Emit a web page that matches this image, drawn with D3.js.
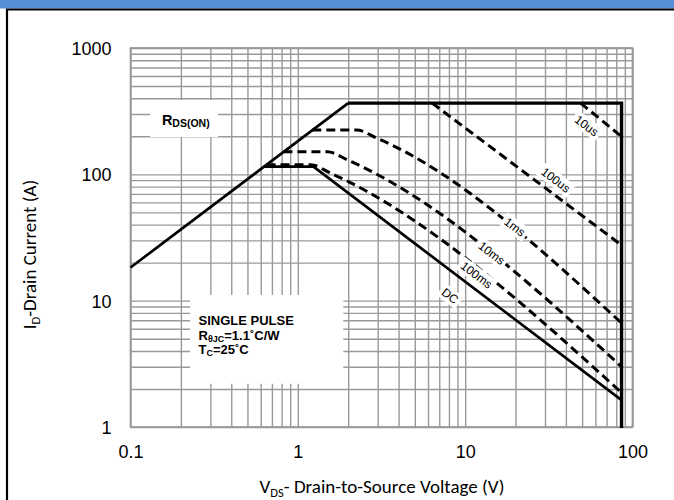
<!DOCTYPE html>
<html><head><meta charset="utf-8">
<script src="https://cdn.jsdelivr.net/npm/d3@7"></script>
<style>body{margin:0;background:#fff}svg{display:block}</style>
</head><body><svg id="c" width="674" height="500"></svg>
<script>
// ---- data ----
const xTicks = [0.1, 1, 10, 100];
const xTickLabels = ["0.1", "1", "10", "100"];
const yTicks = [1, 10, 100, 1000];
const yTickLabels = ["1", "10", "100", "1000"];

// [V, A] points
const rdsLine   = [[0.1, 18.3], [2.0, 366]];
const limitLine = [[2.0, 366], [86, 366], [86, 0.98]];
const dcLine    = [[0.62, 115], [1.24, 115], [86, 1.63]];
const ms100Line = [[0.65, 119], [1.2, 119], [1.55, 103], [86, 1.87]];
const ms10Line  = [[0.82, 151], [1.5, 151], [2.0, 129], [86, 3.0]];
const ms1Line   = [[1.22, 224], [2.25, 224], [2.95, 194], [86, 6.65]];
const us100Line = [[6.35, 366], [86, 27.5]];
const us10Line  = [[49, 366], [86, 199]];

const curveLabels = ["10us", "100us", "1ms", "10ms", "100ms", "DC"];
const labelV = [53.2, 34.8, 19.8, 14.4, 11.7, 8.13];
const labelI = [242.6, 90.1, 38.3, 23.8, 16.0, 10.9];

const xTitle = ["V", "DS", "- Drain-to-Source Voltage (V)"];
const yTitle = ["I", "D", "-Drain Current (A)"];
const noteLines = [["SINGLE PULSE", "", ""], ["R", "\u03B8JC", "=1.1\u02DAC/W"], ["T", "C", "=25\u02DAC"]];

// ---- drawing ----
const W = 674, H = 500;
const svg = d3.select("#c");
const L = 130.5, R = 632.5, T = 48, B = 427;
const x = d3.scaleLog().domain([0.1, 100]).range([L, R]);
const y = d3.scaleLog().domain([1, 1000]).range([B, T]);

svg.append("rect").attr("width", W).attr("height", H).attr("fill", "#fff");
svg.append("rect").attr("x", 0).attr("y", 0).attr("width", W).attr("height", 8.5).attr("fill", "#578ed6");
svg.append("path").attr("d", `M7,${H} V9.5 H${W}`).attr("fill", "none").attr("stroke", "#000").attr("stroke-width", 2.2);

const gridColor = "#999";
// grid via axes
const gx = svg.append("g").attr("transform", `translate(0,${B})`)
  .call(d3.axisBottom(x).ticks(10).tickSize(-(B - T)).tickFormat(""));
const gy = svg.append("g").attr("transform", `translate(${L},0)`)
  .call(d3.axisLeft(y).ticks(10).tickSize(-(R - L)).tickFormat(""));
[gx, gy].forEach(g => {
  g.select(".domain").remove();
  g.selectAll("line").attr("stroke", gridColor).attr("stroke-width", 1.4);
});
svg.append("rect").attr("x", L).attr("y", T).attr("width", R - L).attr("height", B - T)
  .attr("fill", "none").attr("stroke", gridColor).attr("stroke-width", 1.7);

// tick labels
const ax = svg.append("g").attr("transform", `translate(0,${B})`)
  .call(d3.axisBottom(x).tickValues(xTicks).tickSize(0).tickPadding(0)
    .tickFormat((d, i) => xTickLabels[i]));
ax.select(".domain").remove();
ax.selectAll("text").attr("y", 31).attr("dy", 0)
  .attr("font-family", "Liberation Sans, Arial, sans-serif").attr("font-size", 18).attr("fill", "#000");
const ay = svg.append("g").attr("transform", `translate(${L},0)`)
  .call(d3.axisLeft(y).tickValues(yTicks).tickSize(0).tickPadding(0)
    .tickFormat((d, i) => yTickLabels[i]));
ay.select(".domain").remove();
ay.selectAll("text").attr("x", -19).attr("dy", "0.36em")
  .attr("font-family", "Liberation Sans, Arial, sans-serif").attr("font-size", 18).attr("fill", "#000");

// white annotation boxes (over grid)
svg.append("rect").attr("x", x(0.131)).attr("y", y(387)).attr("width", x(0.334) - x(0.131)).attr("height", y(197) - y(387)).attr("fill", "#fff");
svg.append("rect").attr("x", x(0.227)).attr("y", y(11.1)).attr("width", x(1.87) - x(0.227)).attr("height", y(2.2) - y(11.1)).attr("fill", "#fff");

// curves
const line = d3.line().x(d => x(d[0])).y(d => y(d[1]));
const smooth = d3.line().x(d => x(d[0])).y(d => y(d[1])).curve(d3.curveMonotoneX);
const solid = (data, w) => svg.append("path").attr("d", line(data)).attr("fill", "none")
  .attr("stroke", "#000").attr("stroke-width", w).attr("stroke-linejoin", "miter");
const dashed = (data) => svg.append("path").attr("d", smooth(data)).attr("fill", "none")
  .attr("stroke", "#000").attr("stroke-width", 3).attr("stroke-dasharray", "9,5");

[ms100Line, ms10Line, ms1Line, us100Line, us10Line].forEach(dashed);
solid(rdsLine, 2.7);
solid(dcLine, 2.7);
solid(limitLine, 3.4);

// curve labels
const angle = Math.atan((y(1) - y(10)) / (x(10) - x(1))) * 180 / Math.PI;
curveLabels.forEach((t, i) => {
  const g = svg.append("g").attr("transform", `translate(${x(labelV[i])},${y(labelI[i])}) rotate(${angle})`);
  const tx = g.append("text").attr("text-anchor", "middle").attr("dy", "0.35em")
    .attr("font-family", "Liberation Sans, Arial, sans-serif").attr("font-size", 12).text(t);
  const w = tx.node().getComputedTextLength();
  g.insert("rect", "text").attr("x", -w / 2 - 3).attr("y", -7.5).attr("width", w + 6).attr("height", 15).attr("fill", "#fff");
});

// RDS(ON) label
const rt = svg.append("text").attr("x", x(0.154)).attr("y", y(300) + 10.8)
  .attr("font-family", "Liberation Sans, Arial, sans-serif").attr("font-weight", "bold").attr("font-size", 14.5);
rt.append("tspan").text("R");
rt.append("tspan").attr("font-size", 10.5).attr("dy", 2).text("DS(ON)");

// note block
noteLines.forEach((ln, i) => {
  const t = svg.append("text").attr("x", x(0.255)).attr("y", y(11.1) + 30 + i * 14.7)
    .attr("font-family", "Liberation Sans, Arial, sans-serif").attr("font-weight", "bold").attr("font-size", 13);
  t.append("tspan").text(ln[0]);
  if (ln[1]) {
    t.append("tspan").attr("font-size", 9).attr("dy", 2).text(ln[1]);
    t.append("tspan").attr("dy", -2).text(ln[2]);
  }
});

// axis titles
const titleFont = "Carlito, Calibri, Lato, 'Open Sans', sans-serif";
const xt = svg.append("text").attr("x", 382).attr("y", 493).attr("text-anchor", "middle")
  .attr("font-family", titleFont).attr("font-size", 19);
xt.append("tspan").text(xTitle[0]);
xt.append("tspan").attr("font-size", 12.5).attr("dy", 4).text(xTitle[1]);
xt.append("tspan").attr("dy", -4).text(xTitle[2]);

const yt = svg.append("text").attr("transform", `translate(36,${(T + B) / 2 + 17}) rotate(-90)`).attr("text-anchor", "middle")
  .attr("font-family", titleFont).attr("font-size", 19);
yt.append("tspan").text(yTitle[0]);
yt.append("tspan").attr("font-size", 12.5).attr("dy", 4).text(yTitle[1]);
yt.append("tspan").attr("dy", -4).text(yTitle[2]);
</script></body></html>
